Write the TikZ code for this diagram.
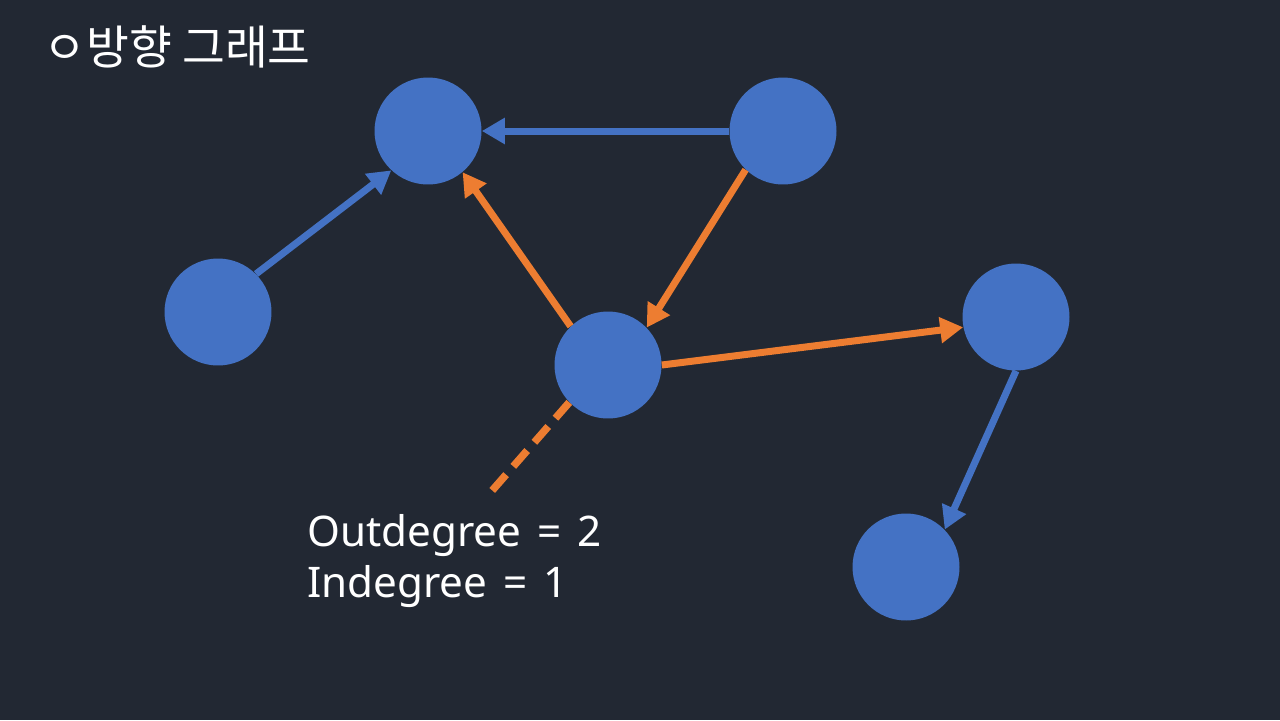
\documentclass[tikz,border=0pt]{standalone}
\usepackage{fontspec}
\setmainfont{Noto Sans}
\newfontfamily\kor{Noto Sans CJK KR}
\usetikzlibrary{arrows.meta}

\definecolor{bg}{HTML}{222833}
\definecolor{vblue}{HTML}{4472C4}
\definecolor{eorange}{HTML}{ED7D31}

\tikzset{
	vertex/.style = {circle, fill = vblue, minimum size = 2.14cm, inner sep = 0pt},
	bedge/.style = {draw = vblue, line width = 0.14cm, -{Triangle[length = 0.46cm, width = 0.5cm]}},
	oedge/.style = {draw = eorange, line width = 0.14cm, -{Triangle[length = 0.46cm, width = 0.5cm]}}
}

\begin{document}
\begin{tikzpicture}[x = 0.02cm, y = -0.02cm]

		\fill[bg] (0, 0) rectangle (1280, 720);
		\useasboundingbox (0, 0) rectangle (1280, 720);

		\node[anchor = base west, text = white, font = \kor\fontsize{26.5}{30}\selectfont, inner sep = 0pt] (title) at (43, 64) {ㅇ방향 그래프};

		\node[vertex] (A) at (428, 131) {};
		\node[vertex] (B) at (783, 131) {};
		\node[vertex] (C) at (218, 312) {};
		\node[vertex] (D) at (608, 365) {};
		\node[vertex] (E) at (1016, 317) {};
		\node[vertex] (F) at (906, 567) {};
		\coordinate (X) at (490, 493);

		\draw[bedge] (B.180) -- (A.0);
		\draw[bedge] (C.45) -- (A.227);
		\draw[oedge] (D.134) -- (A.-50);
		\draw[oedge] (B.226) -- (D.44);
		\draw[oedge] (D.0) -- (E.191);
		\draw[bedge] (E.-90) -- (F.44);
		\draw[eorange, line width = 0.15cm, dash pattern = on 0.42cm off 0.22cm] (D.224) -- (X);

		\node[anchor = base west, align = left, text = white, font = \fontsize{24}{28.5}\selectfont, inner sep = 0pt] (label) at (307, 597) {Outdegree\hspace{0.38em}=\hspace{0.38em}2\\Indegree\hspace{0.38em}=\hspace{0.38em}1};

	\end{tikzpicture}
\end{document}
